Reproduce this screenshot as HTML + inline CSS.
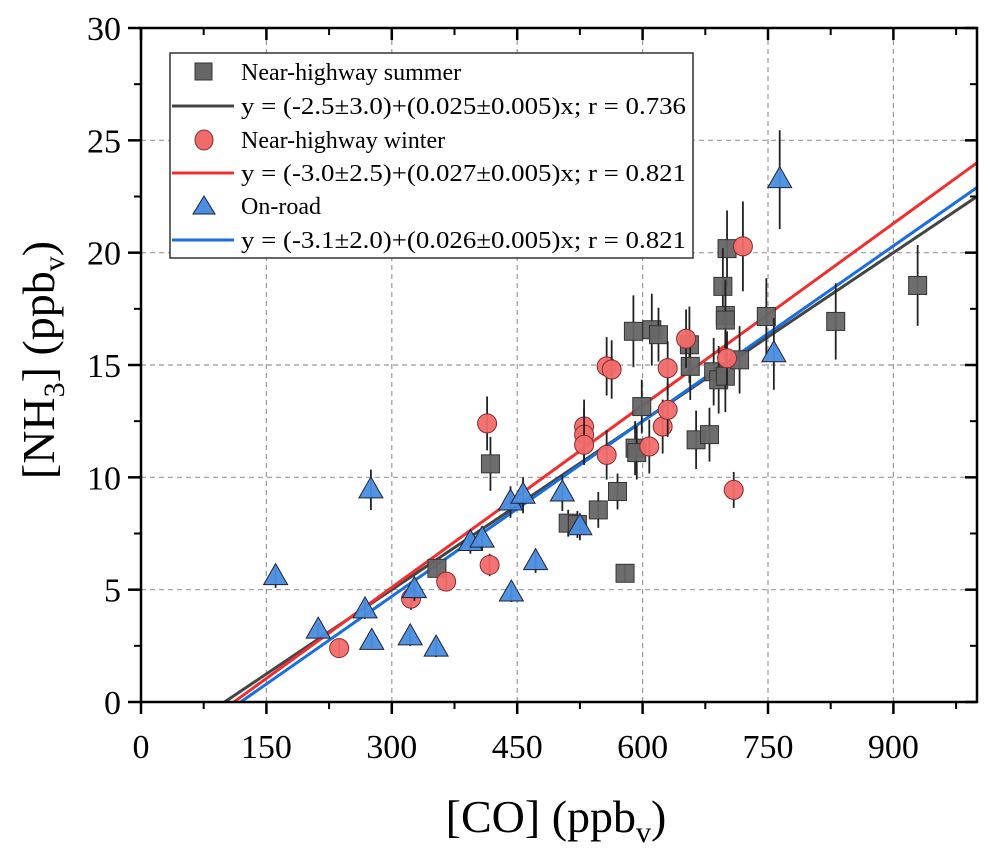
<!DOCTYPE html>
<html><head><meta charset="utf-8"><style>
html,body{margin:0;padding:0;background:#fff;}
svg{display:block;font-family:"Liberation Serif",serif;}
</style></head><body>
<svg id="chart" width="990" height="857" viewBox="0 0 990 857" xmlns="http://www.w3.org/2000/svg">
<g id="grid"></g>
<g id="lines"></g>
<g id="marks"></g>
<g id="axes"></g>
<g id="legend">
  <rect x="170" y="53" width="523" height="205" fill="#fff" stroke="#333" stroke-width="1.5"/>
  <rect x="195" y="63" width="17" height="17" fill="#666" stroke="#333"/>
  <text x="241" y="80" font-size="24">Near-highway summer</text>
  <line x1="172" y1="106" x2="234" y2="106" stroke="#444" stroke-width="3"/>
  <text x="241" y="114" font-size="24" textLength="445" lengthAdjust="spacingAndGlyphs">y = (-2.5±3.0)+(0.025±0.005)x; r = 0.736</text>
  <ellipse cx="204" cy="140" rx="9" ry="10" fill="#f26b6b" stroke="#8a2a2a"/>
  <text x="241" y="148" font-size="24">Near-highway winter</text>
  <line x1="172" y1="173" x2="234" y2="173" stroke="#f03030" stroke-width="3"/>
  <text x="241" y="181" font-size="24" textLength="445" lengthAdjust="spacingAndGlyphs">y = (-3.0±2.5)+(0.027±0.005)x; r = 0.821</text>
  <polygon points="204,196 193,214 215,214" fill="#4a8ee0" stroke="#223"/>
  <text x="241" y="214" font-size="24">On-road</text>
  <line x1="172" y1="240" x2="234" y2="240" stroke="#1a6fe0" stroke-width="3"/>
  <text x="241" y="248" font-size="24" textLength="445" lengthAdjust="spacingAndGlyphs">y = (-3.1±2.0)+(0.026±0.005)x; r = 0.821</text>
</g>
<text x="556" y="832" font-size="46" text-anchor="middle">[CO] (ppb<tspan font-size="30" dy="10">v</tspan><tspan dy="-10">)</tspan></text>
<text transform="translate(54,360) rotate(-90)" font-size="46" text-anchor="middle">[NH<tspan font-size="30" dy="10">3</tspan><tspan dy="-10">] (ppb</tspan><tspan font-size="30" dy="10">v</tspan><tspan dy="-10">)</tspan></text>
</svg>
<script>
const xTicks=[0,150,300,450,600,750,900];
const yTicks=[0,5,10,15,20,25,30];
const summerX=[354,418,511,570,547,579,589,611,619,599,591,593,656,657,664,680,701,696,699,699,685,691,699,716,748,831,929,522];
const summerY=[5.95,10.6,7.96,9.37,8.55,5.73,16.5,16.57,16.35,13.15,11.3,11.1,15.9,14.94,11.67,11.9,20.18,18.5,17.2,17.0,14.7,14.34,14.5,15.23,17.16,16.94,18.54,7.9];
const summerErr=[0.3,1.2,0.6,0.8,0.8,0.4,1.6,1.6,1.2,1.2,1.2,1.2,1.7,1.5,1.3,1.2,1.7,1.7,1.5,1.8,1.5,1.5,1.6,1.5,1.7,1.7,1.8,0.6];
const winterX=[414,417,237,323,365,557,563,530,530,530,557,608,624,630,630,652,701,720,709];
const winterY=[12.4,6.1,2.4,4.6,5.36,14.94,14.8,12.26,11.9,11.45,11.0,11.37,12.26,13.0,14.86,16.17,15.3,20.28,9.44];
const winterErr=[1.2,0.5,0.4,0.5,0.4,1.3,1.3,1.2,1.2,0.9,1.1,1.2,1.2,1.2,1.2,1.3,1.2,2.0,0.8];
const roadX=[161,275,212,268,276,322,353,327,394,408,443,442,457,472,504,525,764,757];
const roadY=[5.58,9.44,3.2,4.1,2.7,2.9,2.4,5.0,7.1,7.25,4.85,8.9,9.2,6.25,9.3,7.8,23.25,15.5];
const roadErr=[0.5,0.9,0.3,0.4,0.3,0.4,0.4,0.5,0.5,0.5,0.4,0.7,0.8,0.5,0.8,0.6,2.2,1.6];
const fitA=[-2.5,-3.0,-3.1];
const fitB=[0.025,0.027,0.026];
const fitColors=['#444','#f03030','#1a6fe0'];
const fitNames=['fit-line-summer','fit-line-winter','fit-line-onroad'];

const X0=141,X1=977,Y0=702,Y1=28,XMAX=1000,YMAX=30;
const sx=v=>X0+(X1-X0)*v/XMAX;
const sy=v=>Y0-(Y0-Y1)*v/YMAX;
const NS='http://www.w3.org/2000/svg';
function mk(tag,attrs,parent){const e=document.createElementNS(NS,tag);for(const k in attrs)e.setAttribute(k,attrs[k]);parent.appendChild(e);return e;}
const grid=document.getElementById('grid'),axes=document.getElementById('axes'),lines=document.getElementById('lines'),marks=document.getElementById('marks');

xTicks.forEach(t=>{
  if(t>0){const g=mk('line',{x1:sx(t),x2:sx(t),y1:Y0,y2:Y1,stroke:'#999','stroke-width':1.2,'stroke-dasharray':'5,4'},grid);
  
  }
  const tk=mk('line',{x1:sx(t),x2:sx(t),y1:Y0,y2:Y0+12,stroke:'#000','stroke-width':2.5},axes);
  
  
  mk('line',{x1:sx(t),x2:sx(t),y1:Y1,y2:Y1+12,stroke:'#000','stroke-width':2.5},axes);
  const m=t+75; mk('line',{x1:sx(m),x2:sx(m),y1:Y0,y2:Y0+7,stroke:'#000','stroke-width':2},axes);
  mk('line',{x1:sx(m),x2:sx(m),y1:Y1,y2:Y1+7,stroke:'#000','stroke-width':2},axes);
  const lb=mk('text',{x:sx(t),y:Y0+56,'font-size':34,'text-anchor':'middle'},axes);lb.textContent=t;
  
  
});
yTicks.forEach(t=>{
  if(t>0&&t<30){const g=mk('line',{x1:X0,x2:X1,y1:sy(t),y2:sy(t),stroke:'#999','stroke-width':1.2,'stroke-dasharray':'5,4'},grid);
  
  }
  const tk=mk('line',{x1:X0-13,x2:X0,y1:sy(t),y2:sy(t),stroke:'#000','stroke-width':2.5},axes);
  
  
  mk('line',{x1:X1-12,x2:X1,y1:sy(t),y2:sy(t),stroke:'#000','stroke-width':2.5},axes);
  if(t<30){const m=t+2.5;mk('line',{x1:X0-7,x2:X0,y1:sy(m),y2:sy(m),stroke:'#000','stroke-width':2},axes);
  mk('line',{x1:X1-7,x2:X1,y1:sy(m),y2:sy(m),stroke:'#000','stroke-width':2},axes);}
  const lb=mk('text',{x:X0-20,y:sy(t)+12,'font-size':34,'text-anchor':'end'},axes);lb.textContent=t;
  
  
});
const frame=mk('rect',{x:X0,y:Y1,width:X1-X0,height:Y0-Y1,fill:'none',stroke:'#000','stroke-width':2.5},axes);



fitA.forEach((a,i)=>{
  const b=fitB[i];const xs=-a/b;
  const l=mk('line',{x1:sx(xs),y1:sy(0),x2:sx(XMAX),y2:sy(a+b*XMAX),stroke:fitColors[i],'stroke-width':3},lines);
  
  
});

function err(x,y,e){mk('line',{x1:sx(x),x2:sx(x),y1:sy(y-e),y2:sy(y+e),stroke:'#222','stroke-width':1.8},marks);}
summerX.forEach((x,i)=>{
  err(x,summerY[i],summerErr[i]);
  const r=mk('rect',{x:sx(x)-9,y:sy(summerY[i])-9,width:18,height:18,fill:'#666',stroke:'#333','stroke-width':1,'fill-opacity':0.95},marks);
  
  
});
winterX.forEach((x,i)=>{
  err(x,winterY[i],winterErr[i]);
  const c=mk('circle',{cx:sx(x),cy:sy(winterY[i]),r:9.5,fill:'#f26b6b',stroke:'#8a2a2a','stroke-width':1,'fill-opacity':0.95},marks);
  
  
});
roadX.forEach((x,i)=>{
  err(x,roadY[i],roadErr[i]);
  const px=sx(x),py=sy(roadY[i]);
  const p=mk('polygon',{points:`${px},${py-13} ${px-12},${py+8} ${px+12},${py+8}`,fill:'#4a8ee0',stroke:'#223','stroke-width':1,'fill-opacity':0.95},marks);
  
  
});
</script>
</body></html>
